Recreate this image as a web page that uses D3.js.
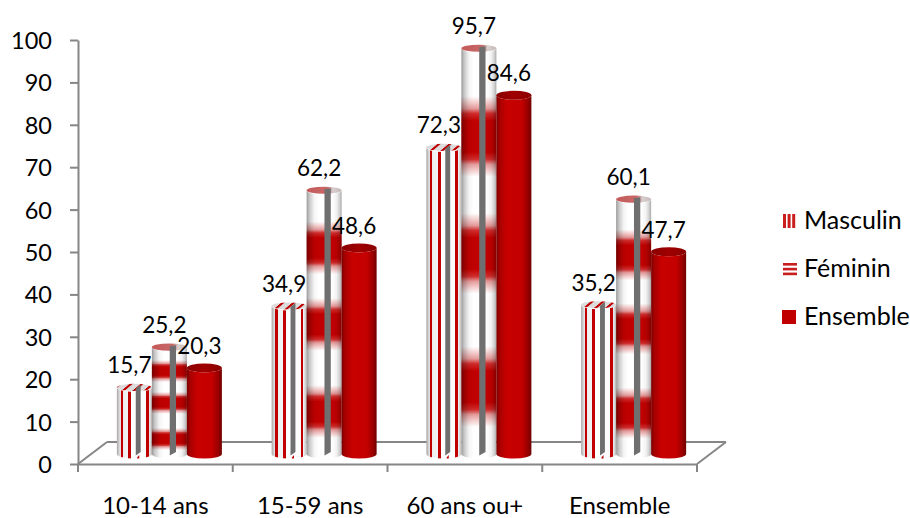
<!DOCTYPE html>
<html><head><meta charset="utf-8">
<script src="https://cdn.jsdelivr.net/npm/d3@7/dist/d3.min.js"></script>
<style>html,body{margin:0;padding:0;background:#fff;overflow:hidden}svg{display:block}text{font-family:Lato,"Open Sans",sans-serif;fill:#000}</style>
</head><body><svg id="c" width="910" height="518"></svg>
<script>
const categories = ["10-14 ans","15-59 ans","60 ans ou+","Ensemble"];
const seriesNames = ["Masculin","Féminin","Ensemble"];
const masculin = [15.7,34.9,72.3,35.2];
const feminin = [25.2,62.2,95.7,60.1];
const ensemble = [20.3,48.6,84.6,47.7];
const valueLabels = [masculin,feminin,ensemble].map(a=>a.map(v=>String(v).replace(".",",")));
const yTicks = d3.range(0,101,10);

const GREY="#868686", RED="#c00000";
const svg=d3.select("#c"), defs=svg.append("defs");
const y=d3.scaleLinear().domain([0,100]).range([464,40]);
const x0=d3.scaleBand().domain(categories).range([78,697]);
const x1=d3.scaleBand().domain(seriesNames).range([-52.5,52.5]);
const depthX=29, depthY=22, lift=10, shift=14, ry=4.5;

function grad(id,stops,vertical){
  const g=defs.append("linearGradient").attr("id",id).attr("x1",0).attr("y1",0)
    .attr("x2",vertical?0:1).attr("y2",vertical?1:0);
  stops.forEach(s=>g.append("stop").attr("offset",s[0]).attr("stop-color",s[1]).attr("stop-opacity",s[2]===undefined?1:s[2]));
}
// Ensemble body
grad("gE",[[0,"#7c0000"],[.1,"#a80000"],[.3,"#c80000"],[.72,"#c40000"],[.9,"#980000"],[1,"#6e0000"]]);
grad("gET",[[0,"#8a0000"],[.5,"#a00000"],[1,"#8a0000"]]);
// Masculin stripes
grad("gM",[[0,"#a9a3a3"],[.07,"#d8d8d8"],[.11,"#e8e8e8"],[.11,RED],[.17,RED],[.17,"#eeeeee"],[.32,"#f4f4f4"],[.32,RED],[.41,RED],[.41,"#fff"],[.83,"#fbfbfb"],[.83,RED],[.91,RED],[.91,"#f0f0f0"],[.97,"#d0d0d0"],[1,"#a9a3a3"]]);
// Féminin bands (fractions of bar height from the top)
const bandCentres=[.215,.5,.825], bandHalf=.08;
const fs=[[0,"#fff"]];
bandCentres.forEach(c=>{
  const h=bandHalf, e=.012;
  fs.push([c-h-e*1.5,"#fff"],[c-h,"#f2c4c4"],[c-h+e,"#e49a9a"],[c-h+e*2,"#d02c2c"],[c-h+e*3.5,RED],
          [c+h-e*3.5,RED],[c+h-e*2,"#d02c2c"],[c+h-e,"#e49a9a"],[c+h,"#f2c4c4"],[c+h+e*1.5,"#fff"]);
});
fs.push([1,"#fff"]);
grad("gF",fs,true);
grad("gS",[[0,"#000",.4],[.08,"#000",.22],[.22,"#000",.04],[.35,"#000",0],[.72,"#000",0],[.85,"#000",.05],[.94,"#000",.18],[1,"#000",.34]]);
grad("gFT",[[0,"#c55a5a"],[.6,"#c86868"],[.75,"#d8d0d0"],[1,"#c8b8b8"]]);
// Masculin top: slanted stripes
const pt=defs.append("pattern").attr("id","pMT").attr("patternUnits","userSpaceOnUse").attr("width",11).attr("height",11)
  .attr("patternTransform","skewX(-50)");
pt.append("rect").attr("width",11).attr("height",11).attr("fill","#dcdcdc");
pt.append("rect").attr("x",4).attr("width",3.2).attr("height",11).attr("fill",RED);

// floor and walls
const floor=svg.append("g").attr("fill","none").attr("stroke",GREY).attr("stroke-width",2);
const addL=(a,b,c,d)=>floor.append("line").attr("x1",a).attr("y1",b).attr("x2",c).attr("y2",d);
addL(x0.range()[0],y(0),x0.range()[0]+depthX,y(0)-depthY);
addL(x0.range()[1],y(0),x0.range()[1]+depthX,y(0)-depthY);
addL(x0.range()[0]+depthX,y(0)-depthY,x0.range()[1]+depthX,y(0)-depthY);

// axes
const styleAxis=g=>{g.selectAll("path,line").attr("stroke",GREY).attr("stroke-width",2);};
const ay=svg.append("g").attr("transform",`translate(${x0.range()[0]},0)`)
  .call(d3.axisLeft(y).tickValues(yTicks).tickSize(8).tickSizeOuter(0).tickPadding(18));
styleAxis(ay); ay.selectAll("text").attr("font-size",23.5).attr("dy","0.36em");
const ax=svg.append("g").attr("transform",`translate(0,${y(0)})`)
  .call(d3.axisBottom(x0).tickSize(0).tickPadding(33));
styleAxis(ax); ax.selectAll("text").attr("font-size",24).attr("dy","0.71em");
const bounds=categories.map(c=>x0(c)).concat(x0.range()[1]);
ax.selectAll("line.b").data(bounds).join("line").attr("class","b")
  .attr("x1",d=>d).attr("x2",d=>d).attr("y1",0).attr("y2",8).attr("stroke",GREY).attr("stroke-width",2);

// cylinders
const seriesData=[masculin,feminin,ensemble];
const bars=svg.append("g"), labels=svg.append("g");
seriesNames.forEach((s,si)=>{
  const g=bars.append("g").attr("class","series");
  categories.forEach((c,ci)=>{
    const v=seriesData[si][ci], bw=x1.bandwidth(), rx=bw/2;
    const L=x0(c)+x0.step()/2+shift+x1(s), R=L+bw, cx=L+rx;
    const top=y(v)-lift, base=y(0)-lift;
    const body=`M${L},${top}L${L},${base}A${rx},${ry} 0 0 0 ${R},${base}L${R},${top}A${rx},${ry} 0 0 1 ${L},${top}Z`;
    if(si===0){
      g.append("path").attr("d",body).attr("fill","url(#gM)");
      g.append("ellipse").attr("cx",cx).attr("cy",top).attr("rx",rx).attr("ry",ry*.8).attr("fill","url(#pMT)");
    } else if(si===1){
      g.append("path").attr("d",body).attr("fill","url(#gF)");
      g.append("path").attr("d",body).attr("fill","url(#gS)");
      g.append("ellipse").attr("cx",cx).attr("cy",top).attr("rx",rx).attr("ry",ry*.8).attr("fill","url(#gFT)");
    } else {
      g.append("path").attr("d",body).attr("fill","url(#gE)");
      g.append("ellipse").attr("cx",cx).attr("cy",top).attr("rx",rx).attr("ry",ry).attr("fill","url(#gET)");
    }
    if(si<2){
      const a=L+bw*(si===0?.54:.51), b=L+bw*(si===0?.68:.69);
      if(si===0) g.append("path").attr("d",`M${a+bw*.04},${base+3.5}L${b-bw*.04},${base+1}L${b-bw*.04},${base+4.5}L${a+bw*.04},${base+4.5}Z`).attr("fill",RED);
      g.append("path").attr("d",`M${a},${top+(si===0?1:-1)}L${b},${top-(si===0?3:2)}L${b},${base-2}L${a},${base+1.5}Z`).attr("fill","#6f6f6f");
    }
    labels.append("text").attr("x",cx-5).attr("y",top-14).attr("text-anchor","middle")
      .attr("font-size",22.5).text(valueLabels[si][ci]);
  });
});

// legend
const ly=d3.scalePoint().domain(seriesNames).range([221,317]);
const lg=svg.append("g");
seriesNames.forEach((s,i)=>{
  const cy=ly(s), g=lg.append("g");
  if(i===0) [0,1,2].forEach(k=>g.append("rect").attr("x",783+k*4.6).attr("y",cy-7).attr("width",3).attr("height",14).attr("fill","#c81e1e"));
  if(i===1) [0,1,2].forEach(k=>g.append("rect").attr("x",783).attr("y",cy+1-7+k*4.8).attr("width",14).attr("height",2.6).attr("fill","#c81e1e"));
  if(i===2) g.append("rect").attr("x",782).attr("y",cy-7).attr("width",14).attr("height",14).attr("fill",RED);
  g.append("text").attr("x",804).attr("y",cy+8).attr("font-size",25).text(s);
});
</script></body></html>
